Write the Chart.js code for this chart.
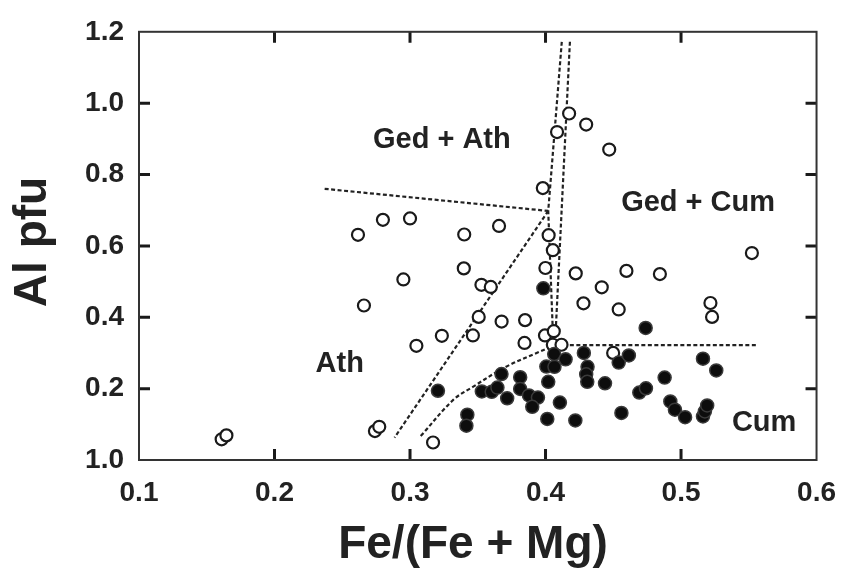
<!DOCTYPE html>
<html>
<head>
<meta charset="utf-8">
<script src="https://cdn.jsdelivr.net/npm/chart.js@4/dist/chart.umd.min.js"></script>
<style>
  html, body { margin: 0; padding: 0; background: #fff; }
  #wrap { width: 852px; height: 572px; }
</style>
</head>
<body>
<div id="wrap"><canvas id="c" width="852" height="572"></canvas></div>
<script>
// Axis tick labels
const xTickLabels = ['0.1', '0.2', '0.3', '0.4', '0.5', '0.6'];
const yTickLabels = ['1.0', '0.2', '0.4', '0.6', '0.8', '1.0', '1.2'];

// Open symbols
const openX = [0.161, 0.1645, 0.2616, 0.266, 0.2741, 0.2773, 0.280, 0.2951, 0.300, 0.3047,
               0.317, 0.3235, 0.3397, 0.340, 0.3464, 0.3507, 0.3527, 0.3596, 0.3657, 0.3676,
               0.3849, 0.3845, 0.398, 0.3999, 0.3996, 0.4023, 0.4054, 0.4061, 0.4054, 0.4118,
               0.4085, 0.4174, 0.430, 0.447, 0.4223, 0.4415, 0.428, 0.4597, 0.454, 0.4844,
               0.4499, 0.5217, 0.5229, 0.5523];
const openY = [0.058, 0.069, 0.631, 0.433, 0.081, 0.093, 0.673, 0.506, 0.677, 0.320,
               0.049, 0.348, 0.537, 0.632, 0.349, 0.401, 0.491, 0.485, 0.656, 0.388,
               0.392, 0.328, 0.762, 0.538, 0.349, 0.630, 0.588, 0.361, 0.323, 0.323,
               0.919, 0.971, 0.940, 0.870, 0.523, 0.484, 0.439, 0.530, 0.422, 0.521,
               0.300, 0.440, 0.401, 0.580];

// Filled symbols
const filledX = [0.3206, 0.353, 0.3423, 0.3416, 0.3603, 0.3645, 0.3675, 0.3717, 0.3813, 0.3813,
                 0.3878, 0.3944, 0.3902, 0.3984, 0.4013, 0.402, 0.4006, 0.4066, 0.4064, 0.4148,
                 0.4106, 0.422, 0.4283, 0.431, 0.430, 0.4308, 0.4439, 0.454, 0.4615, 0.456,
                 0.4739, 0.4692, 0.4741, 0.4879, 0.4921, 0.4955, 0.503, 0.5162, 0.526, 0.5162,
                 0.5176, 0.5193];
const filledY = [0.194, 0.192, 0.127, 0.096, 0.191, 0.203, 0.241, 0.173, 0.232, 0.199,
                 0.181, 0.175, 0.149, 0.481, 0.115, 0.219, 0.262, 0.261, 0.297, 0.282,
                 0.161, 0.111, 0.300, 0.261, 0.240, 0.219, 0.215, 0.273, 0.293, 0.132,
                 0.370, 0.189, 0.201, 0.231, 0.164, 0.141, 0.120, 0.284, 0.251, 0.122,
                 0.136, 0.153];

// Field boundaries (dashed)
const gedAthX = [0.237, 0.402];
const gedAthY = [0.760, 0.698];
const athCumX = [0.402, 0.2886];
const athCumY = [0.698, 0.063];
const gedLeftX = [0.412, 0.402, 0.4058];
const gedLeftY = [1.172, 0.698, 0.320];
const gedRightX = [0.418, 0.407, 0.556];
const gedRightY = [1.172, 0.322, 0.322];
const cumCurveX = [0.3079, 0.3319, 0.3464, 0.3702, 0.3946, 0.4058];
const cumCurveY = [0.067, 0.1685, 0.205, 0.260, 0.302, 0.320];

// Field names
const fieldNames = ['Ged + Ath', 'Ged + Cum', 'Ath', 'Cum'];
const fieldAnchors = [[0.3235, 0.873], [0.5126, 0.699], [0.2481, 0.246], [0.5613, 0.080]];

const pts = (xs, ys) => xs.map((x, i) => ({ x: x, y: ys[i] }));
const INK = '#222';
const FONT = '"Liberation Sans", Arial, Helvetica, sans-serif';

const dashed = (xs, ys, tension) => ({
  data: pts(xs, ys),
  showLine: true,
  borderColor: '#222',
  borderWidth: 2.2,
  borderDash: [4, 2.5],
  pointRadius: 0,
  tension: tension || 0,
  fill: false,
  order: 5
});

const frameAndText = {
  id: 'frameAndText',
  afterDraw(chart) {
    const { ctx, chartArea: a, scales } = chart;
    const xs = scales.x, ys = scales.y;
    ctx.save();
    // inward tick marks on all four sides
    ctx.strokeStyle = '#1a1a1a';
    ctx.lineWidth = 3;
    const L = 11;
    ctx.beginPath();
    xs.ticks.forEach(t => {
      const px = xs.getPixelForValue(t.value);
      if (px <= a.left + 2 || px >= a.right - 2) return;
      ctx.moveTo(px, a.bottom); ctx.lineTo(px, a.bottom - L);
      ctx.moveTo(px, a.top); ctx.lineTo(px, a.top + L);
    });
    ys.ticks.forEach(t => {
      const py = ys.getPixelForValue(t.value);
      if (py <= a.top + 2 || py >= a.bottom - 2) return;
      ctx.moveTo(a.left, py); ctx.lineTo(a.left + L, py);
      ctx.moveTo(a.right, py); ctx.lineTo(a.right - L, py);
    });
    ctx.stroke();
    // plot frame
    ctx.strokeStyle = '#333';
    ctx.lineWidth = 2;
    ctx.strokeRect(a.left, a.top, a.right - a.left, a.bottom - a.top);

    // field names
    ctx.fillStyle = INK;
    ctx.font = 'bold 29px ' + FONT;
    ctx.textAlign = 'center';
    ctx.textBaseline = 'alphabetic';
    fieldNames.forEach((name, i) => {
      ctx.fillText(name, xs.getPixelForValue(fieldAnchors[i][0]), ys.getPixelForValue(fieldAnchors[i][1]));
    });

    // axis titles
    ctx.font = 'bold 46px ' + FONT;
    ctx.fillText('Fe/(Fe + Mg)', 473, 558);
    ctx.translate(46, 242);
    ctx.rotate(-Math.PI / 2);
    ctx.fillText('Al pfu', 0, 0);
    ctx.restore();
  }
};

new Chart(document.getElementById('c'), {
  type: 'scatter',
  data: {
    datasets: [
      {
        data: pts(filledX, filledY),
        pointRadius: 6.5,
        pointBorderWidth: 1.5,
        pointBackgroundColor: '#0d0d0d',
        pointBorderColor: '#3a3a3a',
        order: 1
      },
      {
        data: pts(openX, openY),
        pointRadius: 6,
        pointBorderWidth: 2.2,
        pointBackgroundColor: '#fff',
        pointBorderColor: '#1a1a1a',
        order: 2
      },
      dashed(gedAthX, gedAthY),
      dashed(athCumX, athCumY),
      dashed(gedLeftX, gedLeftY),
      dashed(gedRightX, gedRightY),
      dashed(cumCurveX, cumCurveY, 0.35)
    ]
  },
  options: {
    responsive: false,
    animation: false,
    devicePixelRatio: 1,
    layout: { padding: { left: 0, top: 25, right: 21, bottom: 0 } },
    plugins: { legend: { display: false }, tooltip: { enabled: false } },
    scales: {
      x: {
        type: 'linear',
        min: 0.1,
        max: 0.6,
        grid: { display: false, drawTicks: false },
        border: { display: false },
        ticks: {
          stepSize: 0.1,
          maxRotation: 0,
          autoSkip: false,
          padding: 16,
          color: INK,
          font: { family: FONT, size: 28, weight: 'bold' },
          callback: (v, i) => xTickLabels[i]
        },
        afterFit: s => { s.height = 112; }
      },
      y: {
        type: 'linear',
        min: 0,
        max: 1.2,
        grid: { display: false, drawTicks: false },
        border: { display: false },
        ticks: {
          stepSize: 0.2,
          autoSkip: false,
          padding: 15,
          color: INK,
          font: { family: FONT, size: 28, weight: 'bold' },
          callback: (v, i) => yTickLabels[i]
        },
        afterFit: s => { s.width = 139; }
      }
    }
  },
  plugins: [frameAndText]
});
</script>
</body>
</html>
